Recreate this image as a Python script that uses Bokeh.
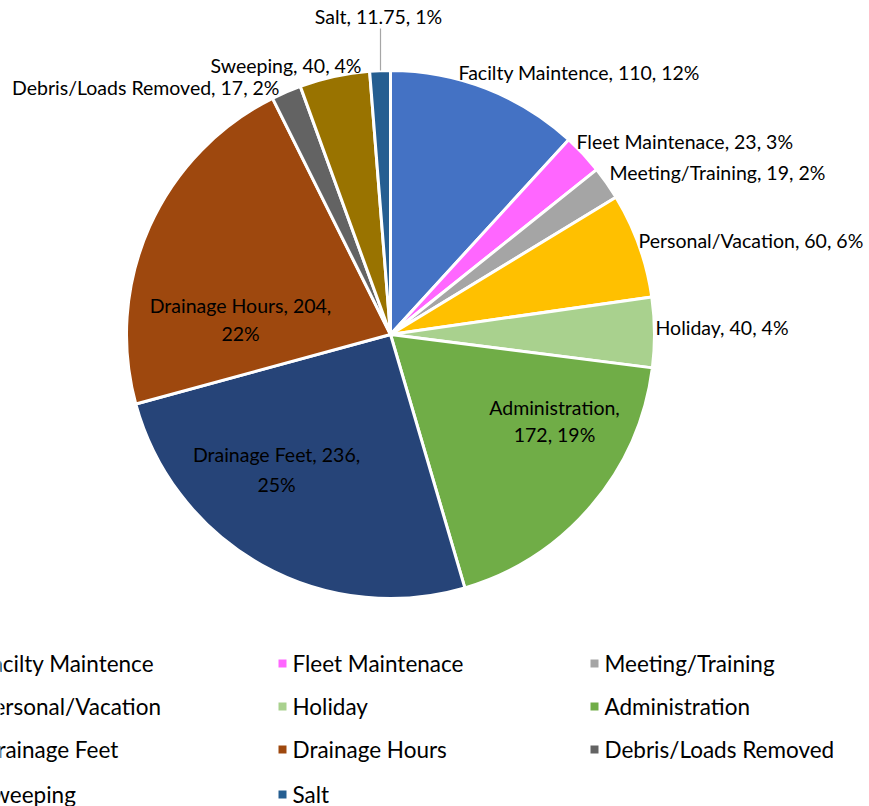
import math
from bokeh.plotting import figure
from bokeh.models import Range1d, ColumnDataSource
from bokeh.core.properties import value
from bokeh.embed import file_html
from bokeh.resources import INLINE

categories = ["Facilty Maintence", "Fleet Maintenace", "Meeting/Training", "Personal/Vacation",
              "Holiday", "Administration", "Drainage Feet", "Drainage Hours",
              "Debris/Loads Removed", "Sweeping", "Salt"]
values = [110, 23, 19, 60, 40, 172, 236, 204, 17, 40, 11.75]
pct_labels = ["12%", "3%", "2%", "6%", "4%", "19%", "25%", "22%", "2%", "4%", "1%"]
colors = ["#4472C4", "#FF66FF", "#A5A5A5", "#FFC000", "#A9D18E", "#70AD47",
          "#264478", "#9E480E", "#636363", "#997300", "#255E91"]

W, H = 869, 806
def Y(sy):
    return 806 - sy

p = figure(width=W, height=H, output_backend="svg", toolbar_location=None,
           x_range=Range1d(0, 869), y_range=Range1d(0, 806), min_border=0)
p.axis.visible = False
p.grid.visible = False
p.outline_line_color = None
p.background_fill_color = "white"

total = sum(values)
cx, cy, r = 390, Y(334), 264
starts, ends = [], []
cum = 0.0
for v in values:
    starts.append(math.pi / 2 - cum / total * 2 * math.pi)
    cum += v
    ends.append(math.pi / 2 - cum / total * 2 * math.pi)

src = ColumnDataSource(dict(start=starts, end=ends, color=colors))
p.wedge(x=cx, y=cy, radius=r, start_angle="start", end_angle="end", direction="clock",
        fill_color="color", line_color="white", line_width=3, source=src)

font = value("Lato")
fs = "19.5px"

def fmt(v):
    return ("%g" % v)

# label layouts: (x, y, align, lines)
layout = {
    0: (458, 72, "left", 1),
    1: (576, 141, "left", 1),
    2: (609, 172, "left", 1),
    3: (638, 240, "left", 1),
    4: (655, 327, "left", 1),
    5: (554, (407, 434), "center", 2),
    6: (276, (454, 484), "center", 2),
    7: (240, (305, 333), "center", 2),
    8: (279, 87, "right", 1),
    9: (361, 65, "right", 1),
    10: (378, 16, "center", 1),
}
for i, (lx, ly, al, nl) in layout.items():
    if nl == 1:
        txt = [f"{categories[i]}, {fmt(values[i])}, {pct_labels[i]}"]
        ys = [Y(ly)]
        xs = [lx]
    else:
        if i == 5:
            txt = [f"{categories[i]},", f"{fmt(values[i])}, {pct_labels[i]}"]
        else:
            txt = [f"{categories[i]}, {fmt(values[i])},", f"{pct_labels[i]}"]
        ys = [Y(ly[0]), Y(ly[1])]
        xs = [lx, lx]
    p.text(x=xs, y=ys, text=txt, text_font=font, text_font_size=fs,
           text_align=al, text_baseline="middle", text_color="#000000")

# leader line for Salt
p.segment(x0=[380], y0=[Y(28)], x1=[380], y1=[Y(70)], line_color="#A6A6A6", line_width=1.2)

# legend
col_x = [-34, 278, 590]
row_y = [663, 706, 749, 794]
for i, cat in enumerate(categories):
    c = i % 3
    rr = i // 3
    mx, my = col_x[c], Y(row_y[rr])
    p.rect(x=[mx + 4], y=[my], width=8, height=8, fill_color=colors[i], line_color=None)
    p.text(x=[mx + 14], y=[my], text=[cat], text_font=font, text_font_size="22.5px",
           text_align="left", text_baseline="middle", text_color="#000000")

open("out.html", "w").write(file_html(p, INLINE))
